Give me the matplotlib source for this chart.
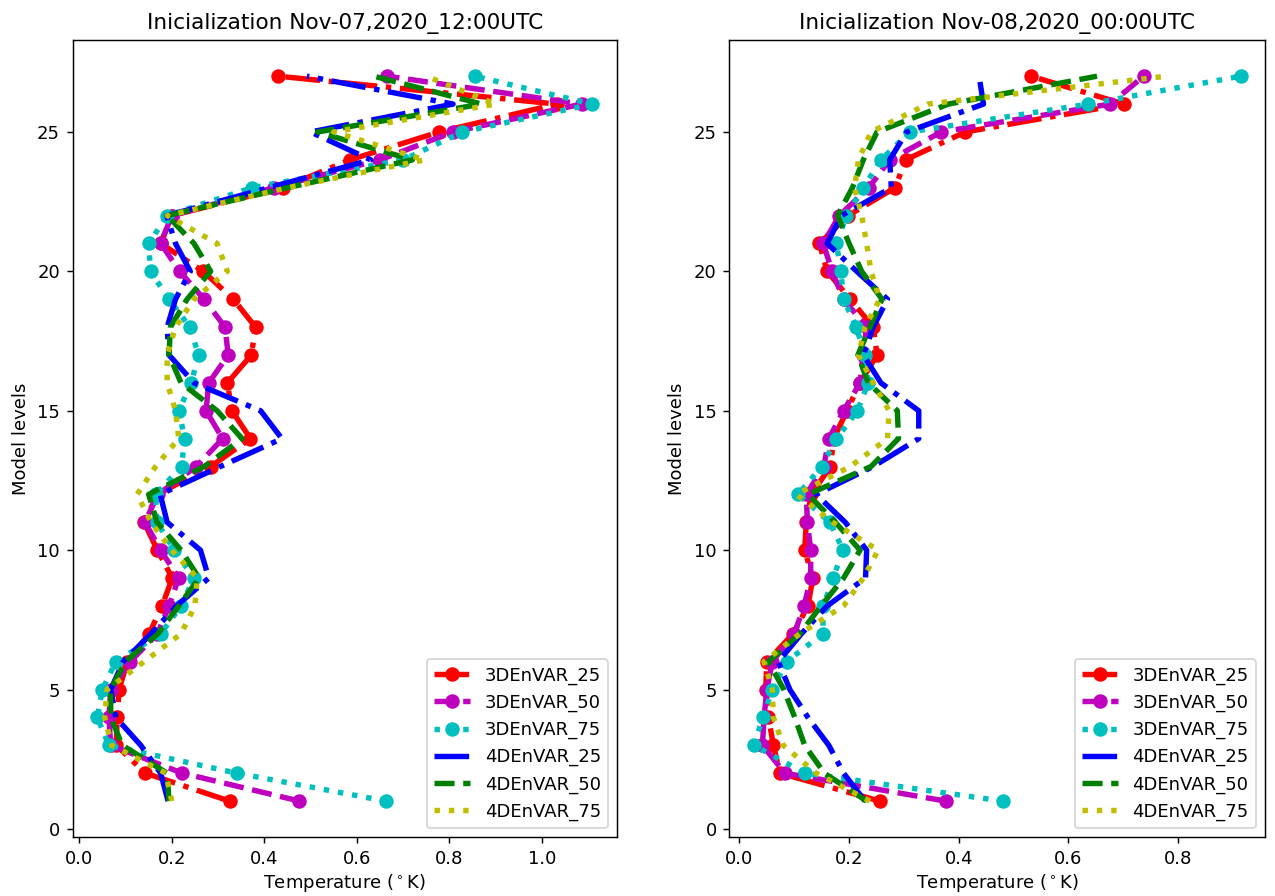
import numpy as np
import matplotlib
matplotlib.use('Agg')
import matplotlib.pyplot as plt

# niveles del modelo
niveles = np.arange(1, 28)

# Inicializacion Nov-07 12UTC
e3d_25_a = [0.325, 0.143, 0.080, 0.082, 0.086, 0.104, 0.151, 0.179, 0.201, 0.169, 0.140, 0.169, 0.284, 0.370,
            0.330, 0.320, 0.372, 0.381, 0.333, 0.268, 0.176, 0.200, 0.440, 0.585, 0.778, 1.032, 0.430]
e3d_50_a = [0.476, 0.223, 0.068, 0.064, 0.068, 0.110, 0.169, 0.194, 0.215, 0.176, 0.142, 0.170, 0.253, 0.310,
            0.274, 0.280, 0.322, 0.315, 0.270, 0.217, 0.176, 0.200, 0.420, 0.650, 0.808, 1.086, 0.666]
e3d_75_a = [0.662, 0.341, 0.064, 0.039, 0.050, 0.079, 0.176, 0.220, 0.248, 0.205, 0.168, 0.165, 0.221, 0.228,
            0.215, 0.242, 0.258, 0.239, 0.194, 0.154, 0.150, 0.190, 0.373, 0.700, 0.828, 1.109, 0.855]
e4d_25_a = [0.192, 0.176, 0.133, 0.079, 0.068, 0.095, 0.155, 0.210, 0.280, 0.262, 0.190, 0.175, 0.305, 0.438,
            0.392, 0.248, 0.194, 0.190, 0.208, 0.240, 0.208, 0.189, 0.410, 0.630, 0.500, 0.808, 0.492]
e4d_50_a = [0.194, 0.190, 0.093, 0.068, 0.068, 0.100, 0.170, 0.215, 0.259, 0.220, 0.168, 0.150, 0.270, 0.352,
            0.298, 0.220, 0.194, 0.197, 0.233, 0.284, 0.248, 0.190, 0.450, 0.720, 0.515, 0.870, 0.637]
e4d_75_a = [0.200, 0.187, 0.070, 0.055, 0.060, 0.140, 0.220, 0.250, 0.255, 0.200, 0.155, 0.125, 0.165, 0.215,
            0.208, 0.190, 0.190, 0.208, 0.248, 0.320, 0.298, 0.190, 0.450, 0.747, 0.550, 0.900, 0.750]

# Inicializacion Nov-08 00UTC
e3d_25_b = [0.256, 0.074, 0.062, 0.053, 0.048, 0.050, 0.098, 0.125, 0.134, 0.119, 0.122, 0.131, 0.166, 0.172,
            0.196, 0.220, 0.251, 0.244, 0.202, 0.160, 0.146, 0.198, 0.284, 0.303, 0.412, 0.701, 0.532]
e3d_50_b = [0.376, 0.083, 0.042, 0.045, 0.050, 0.060, 0.100, 0.118, 0.130, 0.130, 0.124, 0.122, 0.154, 0.163,
            0.190, 0.220, 0.225, 0.232, 0.190, 0.169, 0.153, 0.182, 0.236, 0.274, 0.368, 0.676, 0.737]
e3d_75_b = [0.480, 0.120, 0.026, 0.043, 0.060, 0.086, 0.152, 0.153, 0.171, 0.189, 0.165, 0.107, 0.150, 0.177,
            0.215, 0.235, 0.229, 0.213, 0.190, 0.185, 0.177, 0.195, 0.226, 0.258, 0.311, 0.636, 0.914]
e4d_25_b = [0.229, 0.190, 0.163, 0.125, 0.092, 0.071, 0.113, 0.160, 0.230, 0.232, 0.193, 0.140, 0.244, 0.327,
            0.327, 0.258, 0.226, 0.244, 0.270, 0.214, 0.160, 0.186, 0.277, 0.274, 0.305, 0.445, 0.437]
e4d_50_b = [0.232, 0.155, 0.119, 0.101, 0.081, 0.053, 0.110, 0.149, 0.190, 0.220, 0.175, 0.125, 0.240, 0.290,
            0.288, 0.235, 0.216, 0.238, 0.260, 0.223, 0.200, 0.179, 0.206, 0.226, 0.251, 0.381, 0.652]
e4d_75_b = [0.238, 0.140, 0.080, 0.062, 0.060, 0.045, 0.110, 0.190, 0.226, 0.253, 0.170, 0.104, 0.202, 0.270,
            0.273, 0.244, 0.217, 0.229, 0.256, 0.240, 0.232, 0.223, 0.210, 0.217, 0.240, 0.343, 0.778]

titulos = ['Inicialization Nov-07,2020_12:00UTC', 'Inicialization Nov-08,2020_00:00UTC']
nombres = ['3DEnVAR_25', '3DEnVAR_50', '3DEnVAR_75', '4DEnVAR_25', '4DEnVAR_50', '4DEnVAR_75']

datos = [[e3d_25_a, e3d_50_a, e3d_75_a, e4d_25_a, e4d_50_a, e4d_75_a],
         [e3d_25_b, e3d_50_b, e3d_75_b, e4d_25_b, e4d_50_b, e4d_75_b]]

fmts = ['r-.o', 'm--o', 'c:o', 'b-.', 'g--', 'y:']

fig, axs = plt.subplots(1, 2, figsize=(1275/130, 896/130), dpi=130)
axs[0].set_position([0.0569, 0.0655, 0.4271, 0.8899])
axs[1].set_position([0.572, 0.0655, 0.4202, 0.8899])

for ax, serie, tit in zip(axs, datos, titulos):
    for x, f, nom in zip(serie, fmts, nombres):
        ax.plot(x, niveles, f, label=nom, linewidth=3, markersize=7)
    ax.set_title(tit)
    ax.set_xlabel(r'Temperature ($^\circ$K)', labelpad=2)
    ax.set_ylabel('Model levels')
    ax.legend(loc='lower right')

plt.savefig('out.png', dpi=130)
